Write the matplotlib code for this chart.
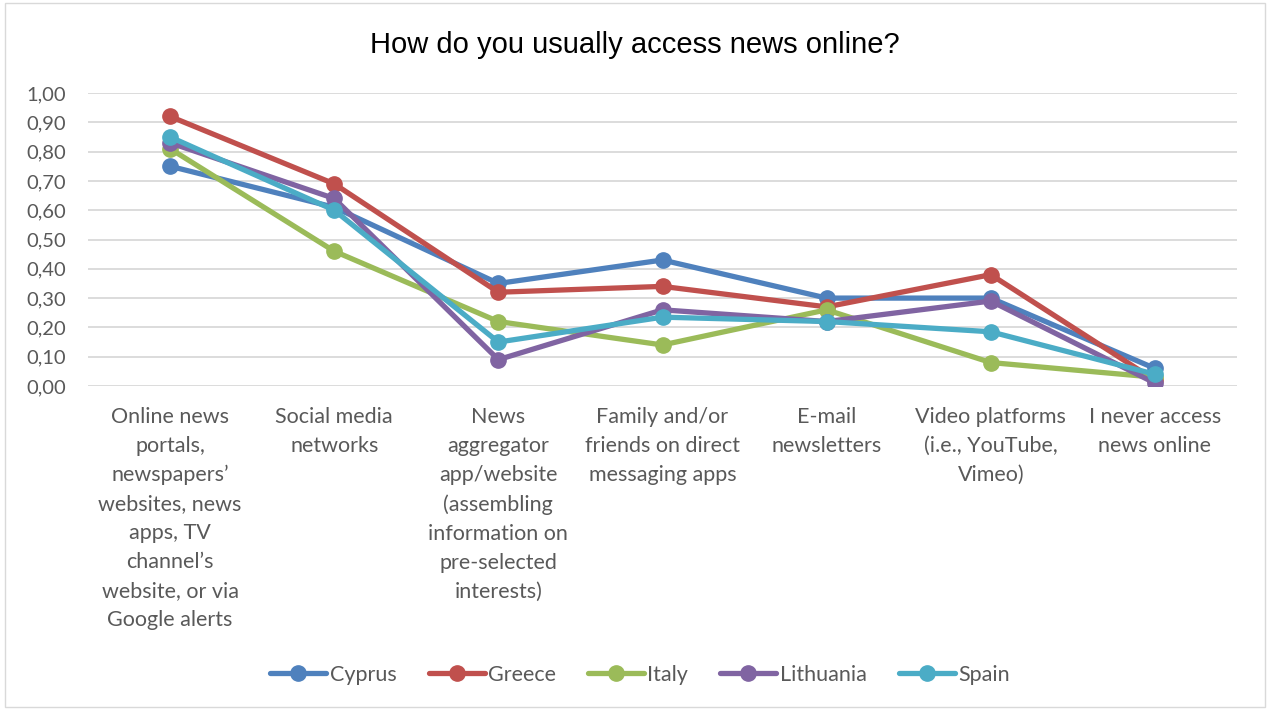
import matplotlib
matplotlib.use('Agg')
import matplotlib.pyplot as plt
from matplotlib.patches import Rectangle

categories = [
    "Online news\nportals,\nnewspapers’\nwebsites, news\napps, TV\nchannel’s\nwebsite, or via\nGoogle alerts",
    "Social media\nnetworks",
    "News\naggregator\napp/website\n(assembling\ninformation on\npre-selected\ninterests)",
    "Family and/or\nfriends on direct\nmessaging apps",
    "E-mail\nnewsletters",
    "Video platforms\n(i.e., YouTube,\nVimeo)",
    "I never access\nnews online",
]
cyprus = [0.75, 0.61, 0.35, 0.43, 0.30, 0.30, 0.06]
greece = [0.92, 0.69, 0.32, 0.34, 0.27, 0.38, 0.02]
italy = [0.81, 0.46, 0.22, 0.14, 0.26, 0.08, 0.03]
lithuania = [0.83, 0.64, 0.09, 0.26, 0.22, 0.29, 0.01]
spain = [0.85, 0.60, 0.15, 0.235, 0.22, 0.185, 0.04]

series = [("Cyprus", cyprus, "#4f81bd"), ("Greece", greece, "#c0504d"),
          ("Italy", italy, "#9bbb59"), ("Lithuania", lithuania, "#8064a2"),
          ("Spain", spain, "#4bacc6")]

txt = "#595959"
plt.rcParams['font.family'] = ['Lato', 'DejaVu Sans']

fig = plt.figure(figsize=(12.7, 7.1), dpi=100)
ax = fig.add_axes([88/1270, 1-386/710, (1237-88)/1270, (386-93)/710])

x = list(range(len(categories)))
for name, vals, col in series:
    ax.plot(x, vals, color=col, lw=3.8, marker='o', ms=11, label=name,
            solid_capstyle='round')

ax.set_xlim(-0.5, len(categories)-0.5)
ax.set_ylim(0, 1)
ax.set_yticks([i/10 for i in range(11)])
ax.set_yticklabels([f"{i/10:.2f}".replace('.', ',') for i in range(11)],
                   fontsize=14.5, color=txt)
ax.set_xticks(x)
ax.set_xticklabels(categories, fontsize=15.5, color=txt, va='top',
                   linespacing=1.56)
ax.tick_params(axis='both', length=0)
ax.tick_params(axis='x', pad=15)
ax.tick_params(axis='y', pad=16)
ax.grid(axis='y', color='#d9d9d9', lw=1.3)
ax.set_axisbelow(True)
for s in ax.spines.values():
    s.set_visible(False)

fig.text(0.5, 1-45/710, "How do you usually access news online?",
         ha='center', va='center', fontsize=21, color='black',
         family=['Liberation Sans', 'DejaVu Sans'])

fig.legend(loc='center', bbox_to_anchor=(640/1270, 1-675/710), ncol=5,
           frameon=False, fontsize=15.5, labelcolor=txt, handlelength=2.6,
           columnspacing=1.5, handletextpad=0.15)

fig.patches.append(Rectangle((0.004, 0.004), 0.992, 0.992,
                             transform=fig.transFigure, fill=False,
                             edgecolor='#d9d9d9', lw=1))

fig.savefig("out.png", dpi=100)
